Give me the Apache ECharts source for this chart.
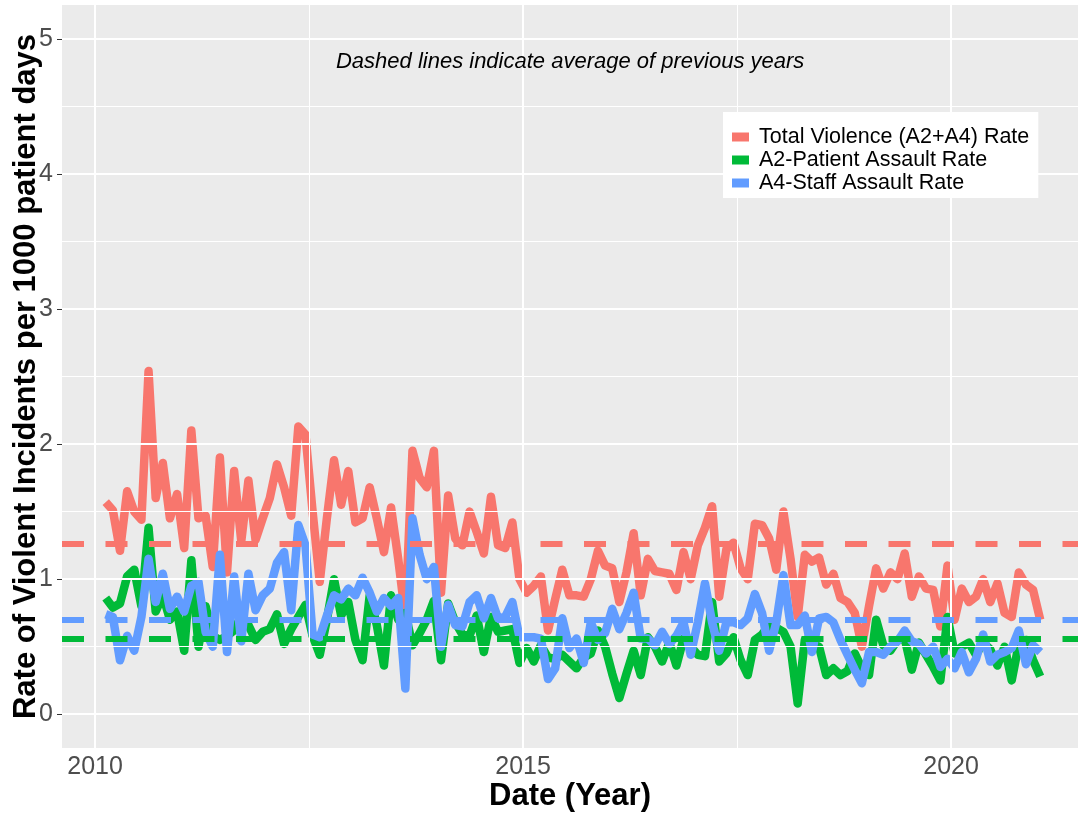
<!DOCTYPE html>
<html><head><meta charset="utf-8">
<script src="https://cdn.jsdelivr.net/npm/echarts@6/dist/echarts.min.js"></script>
<style>html,body{margin:0;padding:0;background:#fff}#c{width:1078px;height:814px}</style>
</head><body><div id="c"></div>
<script>
const FONT = "'Liberation Sans', Arial, Helvetica, sans-serif";
const seriesNames = ['Total Violence (A2+A4) Rate', 'A2-Patient Assault Rate', 'A4-Staff Assault Rate'];
const colors = ['#F8766D', '#00BA38', '#619CFF'];
const firstMonth = { year: 2010, month: 2 };   // monthly observations, Feb 2010 .. Jan 2021

const totalRate = [
  1.57,1.51,1.21,1.65,1.50,1.44,2.54,1.60,1.86,1.45,
  1.63,1.23,2.10,1.45,1.47,1.09,1.90,1.05,1.80,1.28,
  1.73,1.29,1.45,1.60,1.85,1.68,1.47,2.13,2.07,1.50,
  0.98,1.45,1.88,1.55,1.80,1.42,1.45,1.68,1.45,1.20,
  1.53,1.15,0.72,1.95,1.75,1.68,1.95,0.90,1.62,1.30,
  1.25,1.50,1.35,1.19,1.61,1.25,1.23,1.42,1.00,0.90,
  0.95,1.02,0.62,0.85,1.07,0.88,0.88,0.87,1.00,1.21,
  1.10,1.08,0.83,1.05,1.34,0.88,1.15,1.06,1.05,1.04,
  0.92,1.20,1.00,1.25,1.38,1.54,0.87,1.22,1.27,1.08,
  1.00,1.41,1.40,1.30,1.07,1.50,1.15,0.72,1.18,1.13,
  1.16,0.96,1.04,0.86,0.83,0.75,0.50,0.80,1.08,0.93,
  1.05,1.00,1.19,0.87,1.02,0.93,0.92,0.65,1.10,0.70,
  0.93,0.83,0.87,1.00,0.83,0.97,0.75,0.72,1.05,0.96,
  0.92,0.70
];
const patientRate = [
  0.86,0.79,0.82,1.02,1.07,0.80,1.38,0.76,0.88,0.70,
  0.76,0.47,1.14,0.50,0.80,0.58,0.55,0.58,0.62,0.73,
  0.66,0.55,0.61,0.63,0.74,0.52,0.63,0.72,0.81,0.58,
  0.44,0.70,1.00,0.73,0.83,0.55,0.40,0.88,0.66,0.36,
  0.88,0.70,0.75,0.51,0.60,0.70,0.84,0.40,0.82,0.68,
  0.59,0.58,0.73,0.46,0.72,0.61,0.62,0.63,0.38,0.49,
  0.39,0.51,0.42,0.41,0.44,0.39,0.34,0.42,0.45,0.62,
  0.50,0.30,0.12,0.30,0.47,0.29,0.57,0.50,0.39,0.53,
  0.36,0.56,0.50,0.44,0.43,0.83,0.39,0.45,0.57,0.40,
  0.29,0.55,0.59,0.66,0.64,0.61,0.50,0.08,0.55,0.52,
  0.50,0.29,0.34,0.29,0.32,0.45,0.34,0.29,0.70,0.51,
  0.47,0.55,0.56,0.33,0.53,0.44,0.35,0.25,0.72,0.45,
  0.50,0.53,0.44,0.53,0.48,0.36,0.50,0.25,0.52,0.55,
  0.40,0.28
];
const staffRate = [
  0.74,0.72,0.40,0.58,0.47,0.72,1.15,0.83,1.04,0.78,
  0.87,0.76,0.95,0.98,0.61,0.50,1.18,0.46,1.02,0.54,
  1.04,0.77,0.88,0.93,1.12,1.20,0.77,1.40,1.25,0.59,
  0.57,0.73,0.88,0.85,0.93,0.88,1.01,0.90,0.76,0.86,
  0.80,0.86,0.19,1.45,1.18,1.00,1.09,0.50,0.81,0.66,
  0.65,0.83,0.88,0.71,0.86,0.71,0.72,0.83,0.57,0.57,
  0.57,0.56,0.26,0.34,0.71,0.49,0.56,0.38,0.68,0.55,
  0.60,0.78,0.63,0.75,0.90,0.56,0.56,0.51,0.61,0.52,
  0.58,0.68,0.44,0.68,0.97,0.68,0.47,0.68,0.68,0.66,
  0.71,0.89,0.75,0.47,0.68,1.03,0.66,0.66,0.73,0.46,
  0.71,0.72,0.68,0.55,0.44,0.33,0.23,0.46,0.46,0.44,
  0.50,0.54,0.62,0.54,0.52,0.45,0.50,0.35,0.41,0.34,
  0.46,0.31,0.41,0.59,0.39,0.44,0.46,0.49,0.62,0.37,
  0.51,0.46
];
const previousAverage = [1.265, 0.565, 0.70];

const xTicks = [2010, 2015, 2020];
const xMinor = [2012.5, 2017.5];
const yTicks = [0, 1, 2, 3, 4, 5];
const yMinor = [0.5, 1.5, 2.5, 3.5, 4.5];
const xRange = [2009.614, 2021.483];
const yRange = [-0.25, 5.25];
const xTitle = 'Date (Year)';
const yTitle = 'Rate of Violent Incidents per 1000 patient days';
const note = 'Dashed lines indicate average of previous years';
const notePos = [2015.55, 4.83];

function monthX(i) {
  const m = firstMonth.month - 1 + i;
  return firstMonth.year + Math.floor(m / 12) + ((m % 12) + 0.5) / 12;
}
function pairs(vals) { return vals.map((v, i) => [monthX(i), v]); }

const rates = [totalRate, patientRate, staffRate];
const chart = echarts.init(document.getElementById('c'), null, { renderer: 'canvas' });

const gridLines = []
  .concat(yTicks.map(v => ({ yAxis: v, lineStyle: { color: '#ffffff', width: 2, type: 'solid' } })))
  .concat(yMinor.map(v => ({ yAxis: v, lineStyle: { color: '#ffffff', width: 1, type: 'solid' } })))
  .concat(xTicks.map(v => ({ xAxis: v, lineStyle: { color: '#ffffff', width: 2, type: 'solid' } })))
  .concat(xMinor.map(v => ({ xAxis: v, lineStyle: { color: '#ffffff', width: 1, type: 'solid' } })));

const series = [
  {
    name: 'grid', type: 'line', data: [], z: 1, silent: true, animation: false,
    markLine: { silent: true, animation: false, symbol: ['none', 'none'], label: { show: false },
      emphasis: { disabled: true }, data: gridLines }
  }
];
rates.forEach((vals, k) => {
  series.push({
    name: seriesNames[k], type: 'line', data: pairs(vals), z: 2 + k,
    showSymbol: false, symbol: 'none', animation: false, silent: true,
    itemStyle: { color: colors[k] },
    lineStyle: { color: colors[k], width: 8.5, cap: 'butt', join: 'round' },
    emphasis: { disabled: true }
  });
});
series.push({
  name: 'averages', type: 'line', data: [], z: 6, silent: true, animation: false,
  markLine: { silent: true, animation: false, symbol: ['none', 'none'], label: { show: false },
    emphasis: { disabled: true },
    data: previousAverage.map((v, k) => ({ yAxis: v, lineStyle: { color: colors[k], width: 6, type: [22, 21.5], cap: 'butt' } })) },
  markPoint: { silent: true, animation: false, symbol: 'circle', symbolSize: 0,
    data: [{ coord: notePos, label: { show: true, position: 'inside', formatter: note,
      fontStyle: 'italic', fontSize: 22, color: '#000', fontFamily: FONT } }] }
});

chart.setOption({
  animation: false,
  backgroundColor: '#ffffff',
  textStyle: { fontFamily: FONT },
  grid: { left: 62, right: 0, top: 5, bottom: 66, show: true, backgroundColor: '#EBEBEB', borderWidth: 0,
    containLabel: false, outerBoundsMode: 'none' },
  legend: {
    data: seriesNames.map(n => ({ name: n, icon: 'rect' })),
    orient: 'vertical', left: 723, top: 112, z: 20,
    itemWidth: 17, itemHeight: 9, itemGap: 1,
    padding: [14, 9, 4, 9], backgroundColor: '#ffffff',
    lineStyle: { opacity: 0 },
    itemStyle: { borderWidth: 0 },
    textStyle: { fontSize: 21.5, color: '#000', fontFamily: FONT, padding: [0, 0, 0, 5] },
    selectedMode: false
  },
  xAxis: {
    type: 'value', min: xRange[0], max: xRange[1],
    axisLine: { show: false },
    axisTick: { show: true, customValues: xTicks, length: 5, lineStyle: { color: '#333333', width: 1 } },
    axisLabel: { customValues: xTicks, formatter: v => String(v), fontSize: 25, color: '#4D4D4D', margin: 7, fontFamily: FONT },
    splitLine: { show: false },
    name: xTitle, nameLocation: 'middle', nameGap: 33, nameMoveOverlap: false,
    nameTextStyle: { fontSize: 31, fontWeight: 'bold', color: '#000', fontFamily: FONT }
  },
  yAxis: {
    type: 'value', min: yRange[0], max: yRange[1],
    axisLine: { show: false },
    axisTick: { show: true, customValues: yTicks, length: 5, lineStyle: { color: '#333333', width: 1 } },
    axisLabel: { customValues: yTicks, formatter: v => String(v), fontSize: 25, color: '#4D4D4D', margin: 9, fontFamily: FONT },
    splitLine: { show: false },
    name: yTitle, nameLocation: 'middle', nameGap: 20, nameMoveOverlap: false,
    nameTextStyle: { fontSize: 31, fontWeight: 'bold', color: '#000', fontFamily: FONT }
  },
  series: series
});
</script>
</body></html>
